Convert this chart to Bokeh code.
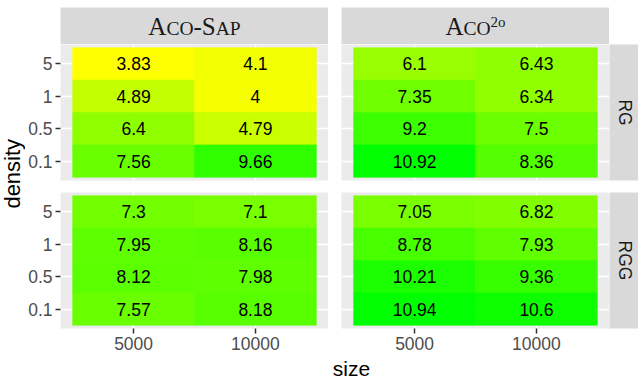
import math
from bokeh.plotting import figure
from bokeh.models import FactorRange, Range1d, ColumnDataSource, LinearColorMapper, GridBox
from bokeh.transform import transform
from bokeh.core.properties import value
from bokeh.embed import file_html
from bokeh.resources import INLINE

# ---------------- data ----------------
sizes = ["5000", "10000"]
densities = ["0.1", "0.5", "1", "5"]          # bottom -> top on the axis
density_rows = ["5", "1", "0.5", "0.1"]       # order of the value lists below
algorithms = ["Aco-Sap", "Aco2o"]
graphs = ["RG", "RGG"]

rg_sap_5000 = [3.83, 4.89, 6.4, 7.56]
rg_sap_10000 = [4.1, 4, 4.79, 9.66]
rg_aco2o_5000 = [6.1, 7.35, 9.2, 10.92]
rg_aco2o_10000 = [6.43, 6.34, 7.5, 8.36]
rgg_sap_5000 = [7.3, 7.95, 8.12, 7.57]
rgg_sap_10000 = [7.1, 8.16, 7.98, 8.18]
rgg_aco2o_5000 = [7.05, 8.78, 10.21, 10.94]
rgg_aco2o_10000 = [6.82, 7.93, 9.36, 10.6]

panels = {
    ("RG", "Aco-Sap"): [rg_sap_5000, rg_sap_10000],
    ("RG", "Aco2o"): [rg_aco2o_5000, rg_aco2o_10000],
    ("RGG", "Aco-Sap"): [rgg_sap_5000, rgg_sap_10000],
    ("RGG", "Aco2o"): [rgg_aco2o_5000, rgg_aco2o_10000],
}

all_vals = [v for cols in panels.values() for c in cols for v in c]
lo, hi = min(all_vals), max(all_vals)

# yellow -> green palette (red channel curve)
curve = [(0.0, 255), (0.15, 195), (0.36, 143), (0.52, 106), (0.82, 48), (1.0, 0)]
palette = []
for i in range(256):
    t = i / 255
    for (t0, r0), (t1, r1) in zip(curve[:-1], curve[1:]):
        if t0 <= t <= t1:
            r = r0 + (r1 - r0) * (t - t0) / (t1 - t0)
            break
    palette.append("#%02x%02x00" % (int(round(r)), 255))
mapper = LinearColorMapper(palette=palette, low=lo, high=hi)

# ---------------- layout constants ----------------
FRAME_W, FRAME_H = 268, 136
W_LAB = 25
LEFT_B, RIGHT_B = 35, 13
W_STRIP = 29
STRIP_TOP = 7
H_STRIP = 44
GAP = 12
AXIS_H = 28
H_SIZE = 24

SANS = "Liberation Sans"
SERIF = "Liberation Serif"
FS = "17.5px"
DENS_PX = 22
SIZE_PX = 21


def make_panel(gi, ai):
    left = ai == 0
    bottom = gi == 1
    lb = LEFT_B if left else RIGHT_B
    bb = AXIS_H if bottom else GAP
    p = figure(width=lb + FRAME_W, height=FRAME_H + bb,
               x_range=FactorRange(*sizes, range_padding=0.1),
               y_range=FactorRange(*densities, range_padding=0.05),
               output_backend="svg", toolbar_location=None,
               min_border_left=lb, min_border_right=0, min_border_top=0,
               min_border_bottom=bb)
    p.outline_line_color = None
    p.background_fill_color = "#EBEBEB"
    p.border_fill_color = "white"
    cols = panels[(graphs[gi], algorithms[ai])]
    xs, ys, vs, labels = [], [], [], []
    for si, s in enumerate(sizes):
        for di, d in enumerate(density_rows):
            v = cols[si][di]
            xs.append(s)
            ys.append(d)
            vs.append(v)
            labels.append(f"{v:g}")
    src = ColumnDataSource(dict(x=xs, y=ys, v=vs, label=labels))
    p.rect(x="x", y="y", width=1, height=1, source=src,
           fill_color=transform("v", mapper), line_color=transform("v", mapper),
           line_width=0.6)
    p.text(x="x", y="y", text="label", source=src, text_align="center",
           text_baseline="middle", text_font=value(SANS), text_font_size=FS,
           text_color="black")
    for g in (p.xgrid, p.ygrid):
        g.grid_line_color = "white"
        g.grid_line_width = 1.5
    for ax in list(p.xaxis) + list(p.yaxis):
        ax.axis_line_color = None
        ax.major_tick_in = 0
        ax.major_tick_out = 5
        ax.major_tick_line_color = "#333333"
        ax.major_tick_line_width = 1.5
        ax.minor_tick_line_color = None
        ax.major_label_text_font = SANS
        ax.major_label_text_font_size = FS
        ax.major_label_text_color = "#4D4D4D"
    p.xaxis.major_label_standoff = 3
    p.yaxis.major_label_standoff = 3
    if not left:
        p.yaxis.visible = False
    if not bottom:
        p.xaxis.visible = False
    return p


def make_box(width, height, lb, bb, tb, fill):
    p = figure(width=width, height=height,
               x_range=Range1d(0, width - lb), y_range=Range1d(0, height - bb - tb),
               x_axis_location=None, y_axis_location=None,
               output_backend="svg", toolbar_location=None,
               min_border_left=lb, min_border_right=0, min_border_top=tb,
               min_border_bottom=bb)
    p.outline_line_color = None
    p.background_fill_color = fill
    p.border_fill_color = "white"
    p.grid.visible = False
    return p


# Times-like advance widths (em)
ADV = {"A": 0.722, "C": 0.667, "O": 0.722, "-": 0.333, "S": 0.556, "P": 0.556,
       "2": 0.5, "o": 0.5}
SERIF_MID = 0.3375   # em distance from baseline up to the em-box middle


def top_strip(pieces, lb):
    p = make_box(lb + FRAME_W, H_STRIP, lb, 0, STRIP_TOP, "#D9D9D9")
    total = sum(sum(ADV[c] for c in txt) * fs for txt, fs, _ in pieces)
    x = FRAME_W / 2 - total / 2
    xs, ys, ts, fss = [], [], [], []
    for txt, fs, base in pieces:
        # base: baseline height above the strip bottom (px)
        xs.append(x)
        ys.append(base + SERIF_MID * fs)
        ts.append(txt)
        fss.append(f"{fs}px")
        x += sum(ADV[c] for c in txt) * fs
    src = ColumnDataSource(dict(x=xs, y=ys, t=ts, fs=fss))
    p.text(x="x", y="y", text="t", text_font_size="fs", source=src,
           text_align="left", text_baseline="middle",
           text_font=value(SERIF), text_color="#1A1A1A")
    return p


strip_sap = top_strip([("A", 25, 9.5), ("CO", 19.5, 9.5), ("-", 25, 9.5),
                       ("S", 25, 9.5), ("AP", 19.5, 9.5)], LEFT_B)
strip_aco = top_strip([("A", 25, 9.5), ("CO", 19.5, 9.5), ("2o", 15, 17)], RIGHT_B)


def right_strip(label, bb):
    p = make_box(W_STRIP, FRAME_H + bb, 0, bb, 0, "#D9D9D9")
    p.text(x=[W_STRIP / 2 + 1], y=[FRAME_H / 2], text=[label], angle=-math.pi / 2,
           text_align="center", text_baseline="middle", text_font=value(SANS),
           text_font_size=FS, text_color="#1A1A1A")
    return p


strip_rg = right_strip(graphs[0], GAP)
strip_rgg = right_strip(graphs[1], AXIS_H)

# density label (rotated; tops of the letters towards the left edge)
dens_h = FRAME_H + GAP + FRAME_H + AXIS_H
dens = make_box(W_LAB, dens_h, 0, 0, 0, "white")
dens.text(x=[12.4], y=[dens_h - (FRAME_H + GAP + FRAME_H) / 2],
          text=["density"], angle=math.pi / 2, text_align="center",
          text_baseline="middle", text_font=value(SANS),
          text_font_size=f"{DENS_PX}px", text_color="black")

# size label
size_w = LEFT_B + FRAME_W + RIGHT_B + FRAME_W
size_fig = make_box(size_w, H_SIZE, 0, 0, 0, "white")
size_fig.text(x=[LEFT_B + (FRAME_W * 2 + RIGHT_B) / 2], y=[H_SIZE / 2],
              text=["size"], text_align="center", text_baseline="middle",
              text_font=value(SANS), text_font_size=f"{SIZE_PX}px",
              text_color="black")

children = [
    (strip_sap, 0, 1), (strip_aco, 0, 2),
    (dens, 1, 0, 2, 1),
    (make_panel(0, 0), 1, 1), (make_panel(0, 1), 1, 2), (strip_rg, 1, 3),
    (make_panel(1, 0), 2, 1), (make_panel(1, 1), 2, 2), (strip_rgg, 2, 3),
    (size_fig, 3, 1, 1, 2),
]
grid = GridBox(children=children, spacing=0)

open("out.html", "w").write(file_html(grid, INLINE))
